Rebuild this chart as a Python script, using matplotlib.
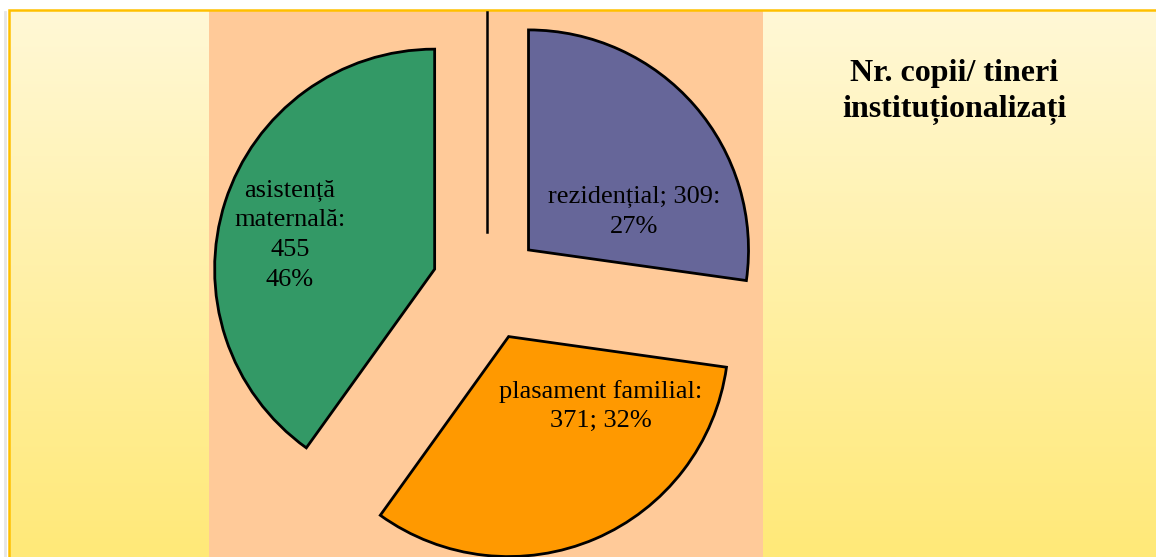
import matplotlib.pyplot as plt
import numpy as np
from matplotlib.patches import Rectangle

# Data
categories = ['rezidențial', 'plasament familial', 'asistență maternală']
values = [309, 371, 455]
shown_pct = ['27%', '32%', '46%']
label_texts = [
    'rezidențial; 309:\n27%',
    'plasament familial:\n371; 32%',
    'asistență\nmaternală:\n455\n46%',
]
colors = ['#666699', '#FF9900', '#339966']
title = 'Nr. copii/ tineri\ninstituționalizați'

W, H = 1156, 557
plt.rcParams['font.family'] = ['Liberation Serif', 'DejaVu Serif']

fig = plt.figure(figsize=(W / 100, H / 100), dpi=100)
fig.patch.set_facecolor('white')
ax = fig.add_axes([0, 0, 1, 1])

# Background gradient (cream to yellow) inside the slide frame
top = np.array([255, 248, 214]) / 255
bot = np.array([255, 233, 120]) / 255
t = np.linspace(0, 1, 256)[:, None]
grad = (top * (1 - t) + bot * t)[:, None, :]
ax.imshow(grad, extent=(9, W, 0, H - 10), aspect='auto', zorder=0)

# Peach plot area
ax.add_patch(Rectangle((209, 0), 763 - 209, H - 10, facecolor='#FFCA99',
                       edgecolor='none', zorder=1))
# Frame border
ax.add_patch(Rectangle((9, -5), W, H - 10 + 5, facecolor='none',
                       edgecolor='#FFC000', lw=1.8, zorder=2))
ax.plot([5, 5], [0, H - 12], color='#e6e6e6', lw=2, zorder=0.5)

# Pie (explode is in data units here, radius 220)
wedges, _ = ax.pie(values, colors=colors, startangle=90, counterclock=False,
                   explode=[55, 55, 55], radius=220, center=(487, 271),
                   wedgeprops=dict(edgecolor='black', linewidth=2, zorder=3))

# Vertical line
ax.plot([486.7, 486.7], [H - 12, H - 232], color='black', lw=1.8, zorder=3)

# Labels
label_pos = [(634, H - 212), (601, H - 406), (290, H - 235)]
for txt, (x, y) in zip(label_texts, label_pos):
    ax.text(x, y, txt, ha='center', va='center', fontsize=19,
            linespacing=1.45, zorder=4)

ax.text(954, H - 92, title, ha='center', va='center', fontsize=23,
        fontweight='bold', linespacing=1.35, zorder=4)

ax.set_xlim(0, W)
ax.set_ylim(0, H)
ax.set_aspect('auto')
ax.axis('off')

plt.savefig('out.png', dpi=100)
plt.close()
